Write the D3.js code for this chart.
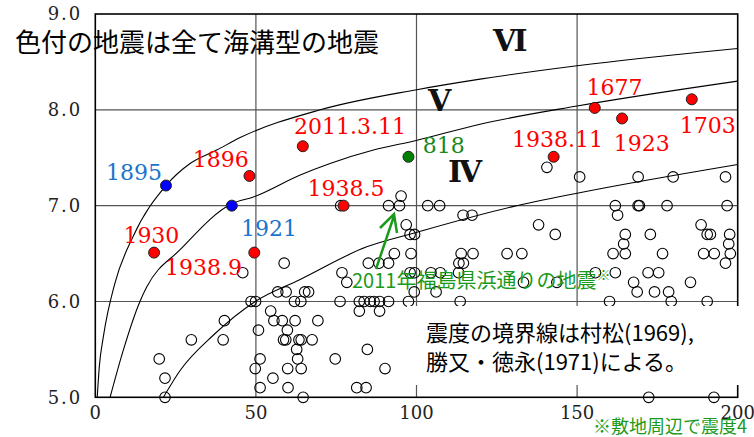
<!DOCTYPE html>
<html lang="ja">
<head>
<meta charset="UTF-8">
<title>震度</title>
<script src="https://cdn.jsdelivr.net/npm/d3@7/dist/d3.min.js"></script>
<style>
  body { margin: 0; background: #fff; }
</style>
</head>
<body>
<svg width="754" height="437" id="main"></svg>
<script>
    // ticks
    const xTicks = [0, 50, 100, 150, 200];
    const yTicks = [5, 6, 7, 8, 9];

    // named events (distance km, magnitude, group)
    const eventNames = ['1895', '1921', '1896', '1930', '1938.9', '2011.3.11', '818', '1938.5', '1938.11', '1677', '1923', '1703'];
    const eventDist = [22.0, 42.5, 48.0, 18.3, 49.5, 64.6, 97.5, 77.3, 142.7, 155.5, 164.0, 185.7];
    const eventMag = [7.21, 7.0, 7.31, 6.51, 6.51, 7.62, 7.51, 7.0, 7.51, 8.02, 7.91, 8.11];
    const eventGroup = ['b', 'b', 'r', 'r', 'r', 'r', 'g', 'r', 'r', 'r', 'r', 'r'];

    // other earthquakes [distance, magnitude]
    const others = [
        [45.9, 6.3], [58.8, 6.4], [48.5, 6.0], [49.9, 6.0], [62, 6.0], [64, 6.0],
        [56.8, 6.1], [59.4, 6.1], [65.2, 6.1], [66.4, 6.1], [54.6, 5.9],
        [40.2, 5.8], [55.6, 5.8], [58.2, 5.8], [62.2, 5.8], [69.3, 5.8],
        [50.8, 5.7], [59.8, 5.7],
        [29.9, 5.6], [39.8, 5.6], [58.6, 5.6], [59.3, 5.6], [63.4, 5.6], [64.1, 5.6], [67.5, 5.6],
        [62.7, 5.5], [19.9, 5.4], [51.3, 5.4], [63.0, 5.4],
        [49.8, 5.3], [59.9, 5.3], [64.1, 5.3], [21.7, 5.2], [55.3, 5.2],
        [51.3, 5.1], [60.0, 5.1], [21.7, 5.0], [64.7, 5.0],
        [95.2, 7.1], [76.4, 7.0], [91.3, 7.0], [94.7, 7.0], [103.5, 7.0], [107.2, 7.0],
        [114.5, 6.9], [117.3, 6.9], [96.8, 6.8], [98.0, 6.7], [99.4, 6.7],
        [93.1, 6.5], [98.3, 6.5], [113.9, 6.5], [117.6, 6.5], [128.2, 6.5], [132.8, 6.5],
        [85.0, 6.4], [88.3, 6.4], [91.3, 6.4], [113.2, 6.4], [114.6, 6.4],
        [76.8, 6.3], [98.0, 6.3], [99.4, 6.3], [104.5, 6.3], [107.4, 6.3], [113.1, 6.3],
        [78.3, 6.2], [133.3, 6.2], [143.7, 6.2], [99.3, 6.1], [106.1, 6.1],
        [76.2, 6.0], [82.2, 6.0], [83.7, 6.0], [85.6, 6.0], [86.8, 6.0], [88.5, 6.0], [91.3, 6.0], [97.5, 6.0], [113.6, 6.0],
        [82.2, 5.9], [88.5, 5.9], [84.7, 5.5], [74.7, 5.4], [90.2, 5.3], [81.4, 5.1], [84.3, 5.1],
        [140.6, 7.4], [150.8, 7.3], [169, 7.3], [179.9, 7.3], [196.2, 7.3],
        [161.9, 7.0], [169, 7.0], [169.4, 7.0], [178, 7.0], [196.7, 7.0], [162.6, 6.9],
        [138, 6.8], [188.6, 6.8],
        [143.2, 6.7], [165, 6.7], [172.8, 6.7], [190.5, 6.7], [191.5, 6.7], [197.5, 6.7],
        [164.5, 6.6], [197.2, 6.6],
        [161.2, 6.5], [165, 6.5], [176.6, 6.5], [189.4, 6.5], [192.7, 6.5], [197.7, 6.5],
        [196.2, 6.4], [155.7, 6.3], [161.9, 6.3], [172.1, 6.3], [175.4, 6.3],
        [167.6, 6.2], [185.3, 6.2], [168.7, 6.1], [174.1, 6.1], [178.5, 6.1],
        [160.1, 6.0], [179.3, 6.0], [190.5, 6.0], [172.3, 5.0], [192.6, 5.0]
    ];

    // intensity boundary lines [distance, magnitude]
    const boundVVI = [[0.6, 5.0], [1.25, 5.32], [2.5, 5.63], [6.1, 6.19], [11.8, 6.68], [22.0, 7.21], [29.5, 7.44],
        [37.8, 7.58], [45.1, 7.71], [70.0, 8.0], [100.1, 8.21], [119.8, 8.32], [150.0, 8.46], [200, 8.64]];
    const boundIVV = [[4.6, 5.0], [8.7, 5.49], [13.9, 6.0], [16.0, 6.15], [26.4, 6.54], [42.5, 7.02], [49.2, 7.09],
        [63.8, 7.32], [73.1, 7.44], [86.6, 7.58], [99.9, 7.68], [119.8, 7.85], [150.0, 8.04], [200, 8.30]];
    const boundIIIIV = [[21.2, 5.0], [26.4, 5.28], [36.8, 5.65], [49.8, 6.0], [63.8, 6.23], [84.5, 6.57],
        [99.9, 6.72], [130, 6.99], [150, 7.13], [200, 7.43]];

    const svg = d3.select('#main');
    const margin = {top: 14, left: 95.3};
    const innerWidth = 642.4;
    const innerHeight = 383.3;
    const x = d3.scaleLinear().domain([0, 200]).range([0, innerWidth]);
    const y = d3.scaleLinear().domain([5, 9]).range([innerHeight, 0]);
    const serif = '"DejaVu Serif", "Liberation Serif", serif';
    const sans = '"Noto Sans CJK JP", "Noto Sans", sans-serif';
    const colors = {r: '#ff0000', b: '#0000ff', g: '#008000'};
    const labelColors = {r: '#ff0000', b: '#1a74cc', g: '#1a8a1a'};

    const g = svg.append('g').attr('transform', `translate(${margin.left}, ${margin.top})`);

    // grid
    g.append('g').selectAll('line').data(xTicks.slice(1, -1)).join('line')
        .attr('x1', d => x(d)).attr('x2', d => x(d)).attr('y1', 0).attr('y2', innerHeight)
        .attr('stroke', '#555').attr('stroke-width', 1.2);
    g.append('g').selectAll('line').data(yTicks.slice(1, -1)).join('line')
        .attr('y1', d => y(d)).attr('y2', d => y(d)).attr('x1', 0).attr('x2', innerWidth)
        .attr('stroke', '#555').attr('stroke-width', 1.2);

    g.append('clipPath').attr('id', 'clip').append('rect').attr('width', innerWidth).attr('height', innerHeight);

    const line = d3.line().x(d => x(d[0])).y(d => y(d[1])).curve(d3.curveMonotoneX);
    g.append('g').attr('clip-path', 'url(#clip)').selectAll('path').data([boundVVI, boundIVV, boundIIIIV]).join('path')
        .attr('d', line).attr('fill', 'none').attr('stroke', '#000').attr('stroke-width', 1.1);

    g.append('g').selectAll('circle').data(others).join('circle')
        .attr('cx', d => x(d[0])).attr('cy', d => y(d[1])).attr('r', 5.3)
        .attr('fill', 'none').attr('stroke', '#000').attr('stroke-width', 1.1);

    const events = eventNames.map((n, i) => ({name: n, d: eventDist[i], m: eventMag[i], grp: eventGroup[i]}));
    g.append('g').selectAll('circle').data(events).join('circle')
        .attr('cx', d => x(d.d)).attr('cy', d => y(d.m)).attr('r', 5.5)
        .attr('fill', d => colors[d.grp]).attr('stroke', '#222').attr('stroke-width', 1);

    // label offsets from the marker, px
    const labelOff = {
        '1895': [-60, -6], '1896': [-56.6, -9.3], '1921': [9.3, 30], '1930': [-30.7, -9.4],
        '1938.9': [-89.3, 22.3], '2011.3.11': [-8.7, -12.4], '818': [14.4, -4], '1938.5': [-36, -10],
        '1938.11': [-41.6, -10], '1677': [-8.3, -13.3], '1923': [-8.4, 32.7], '1703': [-12, 34]
    };
    g.append('g').selectAll('text').data(events).join('text')
        .attr('x', d => x(d.d) + labelOff[d.name][0]).attr('y', d => y(d.m) + labelOff[d.name][1])
        .attr('fill', d => labelColors[d.grp]).attr('font-family', serif).attr('font-size', 22)
        .text(d => d.name);

    // roman numerals
    const romans = [['Ⅵ', 493, 51], ['Ⅴ', 428, 111], ['Ⅳ', 448, 182]];
    svg.append('g').selectAll('text').data(romans).join('text')
        .attr('x', d => d[1]).attr('y', d => d[2]).text(d => d[0])
        .attr('font-family', serif).attr('font-size', 30).attr('font-weight', 'bold').attr('fill', '#111');

    // frame
    g.append('rect').attr('width', innerWidth).attr('height', innerHeight)
        .attr('fill', 'none').attr('stroke', '#000').attr('stroke-width', 1.6);

    // axis labels
    g.append('g').selectAll('text').data(xTicks).join('text')
        .attr('x', d => x(d)).attr('y', innerHeight + 22).attr('text-anchor', 'middle')
        .attr('font-family', serif).attr('font-size', 18).attr('fill', '#222').text(d => d);
    g.append('g').selectAll('text').data(yTicks).join('text')
        .attr('x', -13).attr('y', d => y(d)).attr('dy', '0.36em').attr('text-anchor', 'end')
        .attr('font-family', serif).attr('font-size', 18).attr('letter-spacing', 2).attr('fill', '#222')
        .text(d => d3.format('.1f')(d));

    // title
    svg.append('text').attr('x', 15).attr('y', 52).attr('font-family', sans).attr('font-size', 26)
        .attr('fill', '#000').text('色付の地震は全て海溝型の地震');

    // note box
    svg.append('rect').attr('x', 407).attr('y', 306).attr('width', 340).attr('height', 79).attr('fill', '#fff');
    const note = svg.append('text').attr('font-family', sans).attr('font-size', 22).attr('fill', '#000');
    note.append('tspan').attr('x', 426).attr('y', 341).text('震度の境界線は村松(1969),');
    note.append('tspan').attr('x', 426).attr('y', 370).text('勝又・徳永(1971)による。');

    // 2011 annotation
    const green = '#1a9a1a';
    svg.append('path').attr('d', 'M376,269 L394,216 M380,228 L394,214 L397,233')
        .attr('fill', 'none').attr('stroke', green).attr('stroke-width', 2.5);
    const ann = svg.append('text').attr('x', 352).attr('y', 288).attr('font-family', sans)
        .attr('font-size', 20).attr('fill', green);
    ann.append('tspan').text('2011年福島県浜通りの地震');
    ann.append('tspan').attr('font-size', 14).attr('dy', -8).text('※');

    svg.append('text').attr('x', 593).attr('y', 433).attr('font-family', sans).attr('font-size', 18)
        .attr('fill', green).text('※敷地周辺で震度4');
</script>
</body>
</html>
